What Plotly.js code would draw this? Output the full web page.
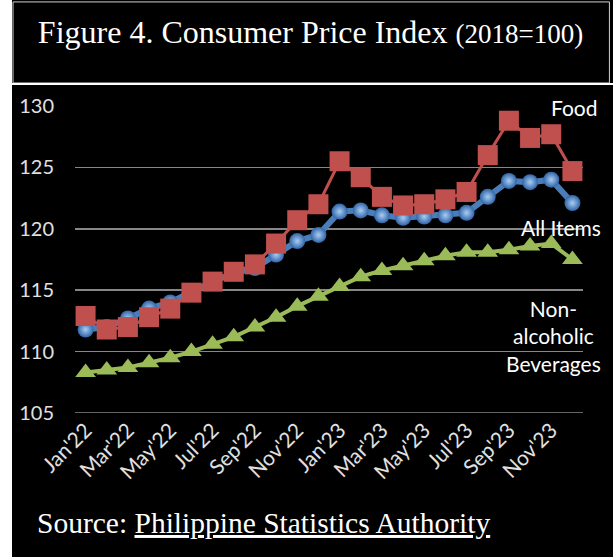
<!DOCTYPE html>
<html>
<head>
<meta charset="utf-8">
<script src="https://cdn.plot.ly/plotly-3.0.1.min.js"></script>
<style>
  html, body { margin: 0; padding: 0; background: #ffffff; width: 613px; height: 557px; overflow: hidden; }
  #chart { position: absolute; left: 12px; top: 0; width: 601px; height: 557px; }
</style>
</head>
<body>
<div id="chart"></div>
<script>
const months = ["Jan'22","Feb'22","Mar'22","Apr'22","May'22","Jun'22","Jul'22","Aug'22","Sep'22","Oct'22","Nov'22","Dec'22",
                "Jan'23","Feb'23","Mar'23","Apr'23","May'23","Jun'23","Jul'23","Aug'23","Sep'23","Oct'23","Nov'23","Dec'23"];
const tickLabels = ["Jan'22","Mar'22","May'22","Jul'22","Sep'22","Nov'22","Jan'23","Mar'23","May'23","Jul'23","Sep'23","Nov'23"];
const allItems = [111.8, 112.0, 112.7, 113.5, 114.0, 114.9, 115.7, 116.4, 116.8, 117.9, 119.0, 119.5,
                  121.4, 121.5, 121.1, 120.9, 121.0, 121.1, 121.3, 122.6, 123.9, 123.8, 124.0, 122.1];
const food = [112.9, 111.8, 112.0, 112.8, 113.5, 114.8, 115.7, 116.5, 117.1, 118.8, 120.7, 122.0,
              125.5, 124.2, 122.6, 121.9, 122.0, 122.4, 123.0, 126.0, 128.8, 127.4, 127.7, 124.7];
const beverages = [108.3, 108.5, 108.7, 109.1, 109.5, 110.0, 110.6, 111.2, 112.0, 112.8, 113.7, 114.5,
                   115.3, 116.1, 116.6, 117.0, 117.4, 117.8, 118.1, 118.1, 118.3, 118.6, 118.8, 117.5];
const yMin = 105, yMax = 130;

const sansFont = "Lato, 'Open Sans', sans-serif";
const serifFont = "'Liberation Serif', 'DejaVu Serif', serif";

const traces = [
  {
    x: months, y: beverages, type: 'scatter', mode: 'lines+markers', name: 'Non-alcoholic Beverages',
    line: { color: '#9bbb59', width: 4 },
    marker: { symbol: 'triangle-up', size: 18, color: '#9bbb59' },
    cliponaxis: false
  },
  {
    x: months, y: allItems, type: 'scatter', mode: 'lines+markers', name: 'All Items',
    line: { color: '#4a7ebb', width: 6 },
    marker: { symbol: 'circle', size: 16, color: '#2f64a8', gradient: { type: 'radial', color: '#a9cdf3' } },
    cliponaxis: false
  },
  {
    x: months, y: food, type: 'scatter', mode: 'lines+markers', name: 'Food',
    line: { color: '#c0504d', width: 3 },
    marker: { symbol: 'square', size: 20, color: '#c0504d' },
    cliponaxis: false
  }
];

const layout = {
  width: 601, height: 557,
  paper_bgcolor: '#000000', plot_bgcolor: '#000000',
  margin: { l: 63, r: 30, t: 106, b: 144 },
  showlegend: false,
  title: {
    text: "Figure 4. Consumer Price Index <span style='font-size:27px'>(2018=100)</span>",
    font: { family: serifFont, size: 32, color: '#ffffff' },
    xref: 'container', yref: 'container', x: 0.043, xanchor: 'left', y: 0.943, yanchor: 'middle'
  },
  xaxis: {
    type: 'category', range: [-0.5, 23.5],
    tickmode: 'array', tickvals: tickLabels, ticktext: tickLabels,
    tickangle: -45, showgrid: false, zeroline: false, showline: false, ticks: '',
    tickfont: { family: sansFont, size: 21, color: '#e0e0e0' }
  },
  yaxis: {
    range: [yMin, yMax], dtick: 5, tick0: yMin,
    showgrid: true, gridcolor: '#878787', gridwidth: 1.5,
    zeroline: false, showline: false, ticks: '',
    ticklabelstandoff: 20,
    tickfont: { family: sansFont, size: 20, color: '#e0e0e0' }
  },
  shapes: [
    { type: 'line', xref: 'paper', yref: 'y', x0: 0, x1: 1, y0: yMin, y1: yMin,
      line: { color: '#878787', width: 1.5 }, layer: 'below' },
    { type: 'rect', xref: 'paper', yref: 'paper', x0: -0.122, x1: 1.052, y0: 1.075, y1: 1.339,
      line: { color: '#cfcfcf', width: 1 } },
    { type: 'line', xref: 'paper', yref: 'paper', x0: -0.124, x1: 1.06, y0: 1.072, y1: 1.072,
      line: { color: '#ffffff', width: 2 } }
  ],
  annotations: [
    { text: 'Food', xref: 'paper', yref: 'paper', x: (574 - 75) / 508, y: (413 - 107) / 307,
      showarrow: false, xanchor: 'center', yanchor: 'middle',
      font: { family: sansFont, size: 21, color: '#ffffff' } },
    { text: 'All Items', xref: 'paper', yref: 'paper', x: (561 - 75) / 508, y: (413 - 227) / 307,
      showarrow: false, xanchor: 'center', yanchor: 'middle',
      font: { family: sansFont, size: 21, color: '#ffffff' } },
    { text: 'Non-<br>alcoholic<br>Beverages', xref: 'paper', yref: 'paper', x: (553 - 75) / 508, y: (413 - 336) / 307,
      showarrow: false, xanchor: 'center', yanchor: 'middle', align: 'center',
      font: { family: sansFont, size: 21, color: '#ffffff' } },
    { text: 'Source: <u>Philippine Statistics Authority</u>', xref: 'paper', yref: 'paper',
      x: (35 - 75) / 508, y: (413 - 523) / 307, showarrow: false, xanchor: 'left', yanchor: 'middle',
      font: { family: serifFont, size: 29.5, color: '#ffffff' } }
  ]
};

Plotly.newPlot('chart', traces, layout, { displayModeBar: false, staticPlot: true });
</script>
</body>
</html>
